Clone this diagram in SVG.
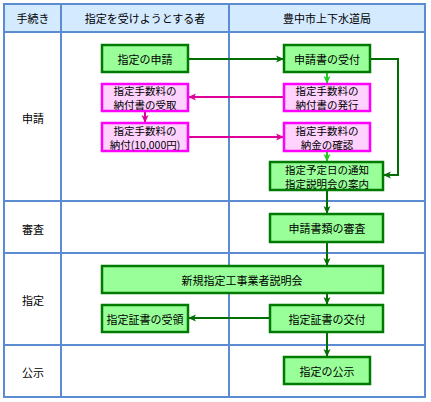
<svg xmlns="http://www.w3.org/2000/svg" width="431" height="402" viewBox="0 0 431 402">
<style>
text{font-family:"Noto Sans CJK JP","Noto Sans",sans-serif;font-size:11px;fill:#000;text-anchor:middle;dominant-baseline:central}
text.s{font-size:10.5px}
.grid{stroke:#5b8bd0;stroke-width:2;fill:none}
.g rect{fill:#99ff99;stroke:#007a00;stroke-width:2.5}
.p rect{fill:#ffd2ff;stroke:#ff00ff;stroke-width:2.5}
.dg{stroke:#006e00;stroke-width:2;fill:none}
.lg{stroke:#22cc22;stroke-width:2;fill:none}
.mg{stroke:#dd0099;stroke-width:2;fill:none}
</style>
<defs>
<marker id="aDG" markerWidth="8" markerHeight="8" refX="7" refY="4" orient="auto" markerUnits="userSpaceOnUse"><path d="M0,0.5 L8,4 L0,7.5 L2,4 Z" fill="#006e00"/></marker>
<marker id="aLG" markerWidth="8" markerHeight="8" refX="7" refY="4" orient="auto" markerUnits="userSpaceOnUse"><path d="M0,0.5 L8,4 L0,7.5 L2,4 Z" fill="#22cc22"/></marker>
<marker id="aMG" markerWidth="8" markerHeight="8" refX="7" refY="4" orient="auto" markerUnits="userSpaceOnUse"><path d="M0,0.5 L8,4 L0,7.5 L2,4 Z" fill="#dd0099"/></marker>
</defs>
<rect width="431" height="402" fill="#fff"/>
<g id="table">
<rect x="4" y="4" width="421" height="28" fill="#d4eaff"/>
<rect class="grid" x="4" y="4" width="421" height="393"/>
<line class="grid" x1="4" y1="32" x2="425" y2="32"/>
<line class="grid" x1="4" y1="201" x2="425" y2="201"/>
<line class="grid" x1="4" y1="253" x2="425" y2="253"/>
<line class="grid" x1="4" y1="345" x2="425" y2="345"/>
<line class="grid" x1="61" y1="4" x2="61" y2="397"/>
<line class="grid" x1="229" y1="4" x2="229" y2="397"/>
<text x="33" y="18">手続き</text>
<text x="145" y="18">指定を受けようとする者</text>
<text x="327" y="18">豊中市上下水道局</text>
<text x="33" y="118">申請</text>
<text x="33" y="229">審査</text>
<text x="33" y="300">指定</text>
<text x="33" y="372">公示</text>
</g>
<g id="connectors">
<line class="dg" x1="188" y1="59" x2="283" y2="59" marker-end="url(#aDG)"/>
<line class="lg" x1="327" y1="72" x2="327" y2="83" marker-end="url(#aLG)"/>
<line class="mg" x1="284" y1="97" x2="189" y2="97" marker-end="url(#aMG)"/>
<line class="mg" x1="145" y1="111" x2="145" y2="122" marker-end="url(#aMG)"/>
<line class="mg" x1="188" y1="137" x2="283" y2="137" marker-end="url(#aMG)"/>
<line class="lg" x1="327" y1="151" x2="327" y2="161" marker-end="url(#aLG)"/>
<polyline class="dg" points="370,59 398,59 398,175 384,175" marker-end="url(#aDG)"/>
<line class="dg" x1="327" y1="190" x2="327" y2="213" marker-end="url(#aDG)"/>
<line class="dg" x1="327" y1="242" x2="327" y2="265" marker-end="url(#aDG)"/>
<line class="dg" x1="327" y1="293" x2="327" y2="304" marker-end="url(#aDG)"/>
<line class="dg" x1="270" y1="318" x2="189" y2="318" marker-end="url(#aDG)"/>
<line class="dg" x1="327" y1="332" x2="327" y2="356" marker-end="url(#aDG)"/>
</g>
<g id="n1" class="g"><rect x="102" y="45" width="86" height="27"/><text x="145" y="59">指定の申請</text></g>
<g id="n2" class="g"><rect x="284" y="45" width="86" height="27"/><text x="327" y="59">申請書の受付</text></g>
<g id="n3" class="p"><rect x="102" y="84" width="86" height="27"/><text class="s" x="145" y="90.5">指定手数料の</text><text class="s" x="145" y="104.5">納付書の受取</text></g>
<g id="n4" class="p"><rect x="284" y="84" width="86" height="27"/><text class="s" x="327" y="90.5">指定手数料の</text><text class="s" x="327" y="104.5">納付書の発行</text></g>
<g id="n5" class="p"><rect x="102" y="123" width="86" height="28"/><text class="s" x="145" y="130">指定手数料の</text><text class="s" x="145" y="144">納付(10,000円)</text></g>
<g id="n6" class="p"><rect x="284" y="123" width="86" height="28"/><text class="s" x="327" y="130">指定手数料の</text><text class="s" x="327" y="144">納金の確認</text></g>
<g id="n7" class="g"><rect x="270" y="162" width="113" height="28"/><text class="s" x="327" y="169">指定予定日の通知</text><text class="s" x="327" y="183">指定説明会の案内</text></g>
<g id="n8" class="g"><rect x="270" y="214" width="113" height="28"/><text x="327" y="228">申請書類の審査</text></g>
<g id="n9" class="g"><rect x="102" y="266" width="281" height="27"/><text x="242" y="280">新規指定工事業者説明会</text></g>
<g id="n10" class="g"><rect x="102" y="305" width="86" height="27"/><text x="145" y="319">指定証書の受領</text></g>
<g id="n11" class="g"><rect x="270" y="305" width="113" height="27"/><text x="327" y="319">指定証書の交付</text></g>
<g id="n12" class="g"><rect x="284" y="357" width="86" height="27"/><text x="327" y="371">指定の公示</text></g>
</svg>
